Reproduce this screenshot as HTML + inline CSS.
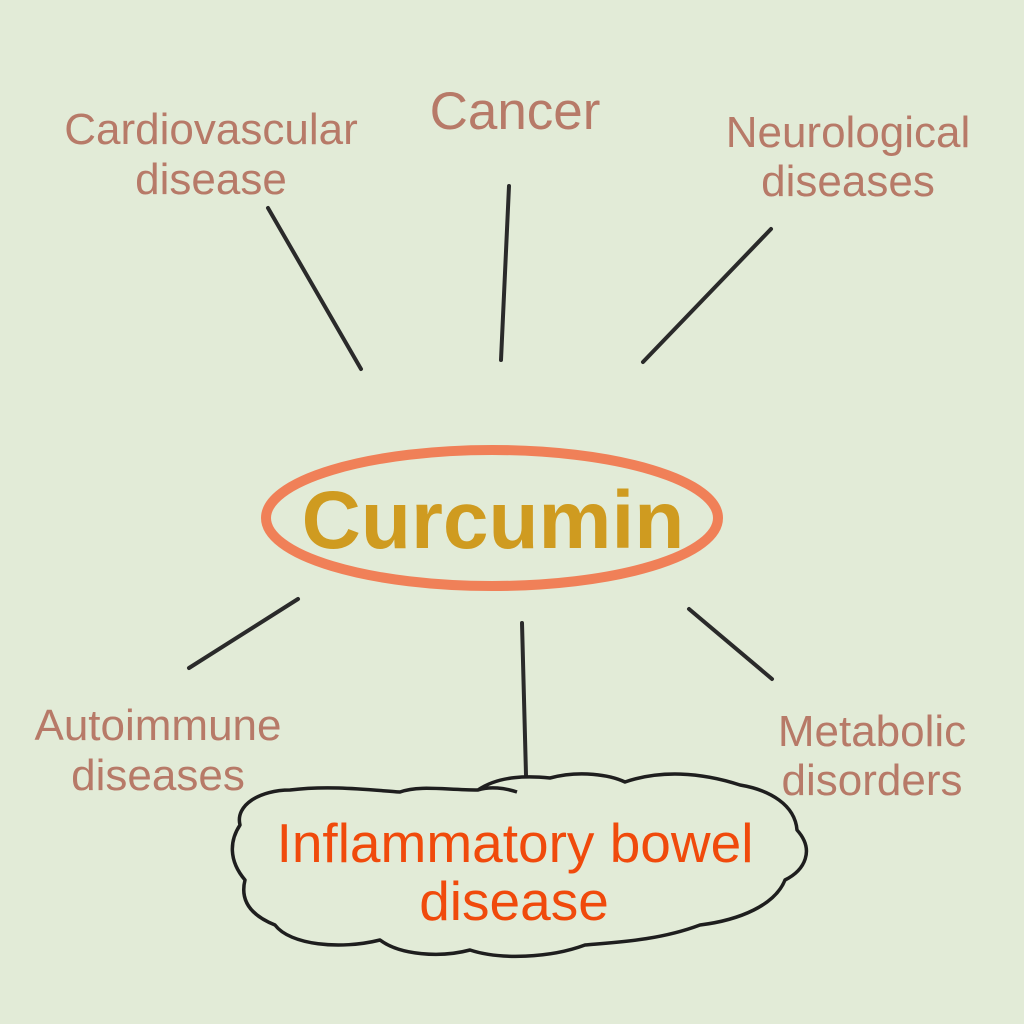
<!DOCTYPE html>
<html><head><meta charset="utf-8"><style>
html,body{margin:0;padding:0;background:#e2ebd7;}
svg{display:block}
text{font-family:"Liberation Sans",sans-serif;}
</style></head><body>
<svg width="1024" height="1024" viewBox="0 0 1024 1024">
<rect width="1024" height="1024" fill="#e2ebd7"/>
<g fill="#b77a68" font-size="44" text-anchor="middle">
<text x="211" y="144">Cardiovascular</text>
<text x="211" y="194">disease</text>
<text x="515" y="129" font-size="53">Cancer</text>
<text x="848" y="147">Neurological</text>
<text x="848" y="196">diseases</text>
<text x="158" y="740">Autoimmune</text>
<text x="158" y="790">diseases</text>
<text x="872" y="746">Metabolic</text>
<text x="872" y="795">disorders</text>
</g>
<g stroke="#2a2a2a" stroke-width="4" stroke-linecap="round" fill="none">
<line x1="268" y1="208" x2="361" y2="369"/>
<line x1="509" y1="186" x2="501" y2="360"/>
<line x1="771" y1="229" x2="643" y2="362"/>
<line x1="298" y1="599" x2="189" y2="668"/>
<line x1="522" y1="623" x2="526" y2="775"/>
<line x1="689" y1="609" x2="772" y2="679"/>
</g>
<ellipse cx="492" cy="518" rx="226" ry="68" fill="none" stroke="#f08058" stroke-width="10"/>
<text x="493" y="548" font-size="82" font-weight="bold" fill="#cf9b20" text-anchor="middle">Curcumin</text>
<path d="M 517 792 C 505 788, 490 786, 478 790 C 500 775, 530 776, 550 778 C 580 770, 610 775, 625 782 C 660 770, 700 772, 740 785 C 770 790, 795 805, 797 830 C 815 850, 805 870, 785 880 C 775 905, 740 920, 700 925 C 660 940, 620 942, 585 945 C 550 958, 500 960, 470 950 C 440 958, 400 955, 380 940 C 340 950, 290 945, 275 925 C 250 915, 240 900, 245 880 C 228 860, 230 840, 240 825 C 235 805, 260 790, 290 790 C 330 785, 370 790, 400 792 C 420 785, 445 790, 478 790" fill="none" stroke="#1e1e1e" stroke-width="3.5" stroke-linejoin="round"/>
<g fill="#f04a0c" font-size="55" text-anchor="middle">
<text x="515" y="862">Inflammatory bowel</text>
<text x="514" y="920">disease</text>
</g>
</svg>
</body></html>
